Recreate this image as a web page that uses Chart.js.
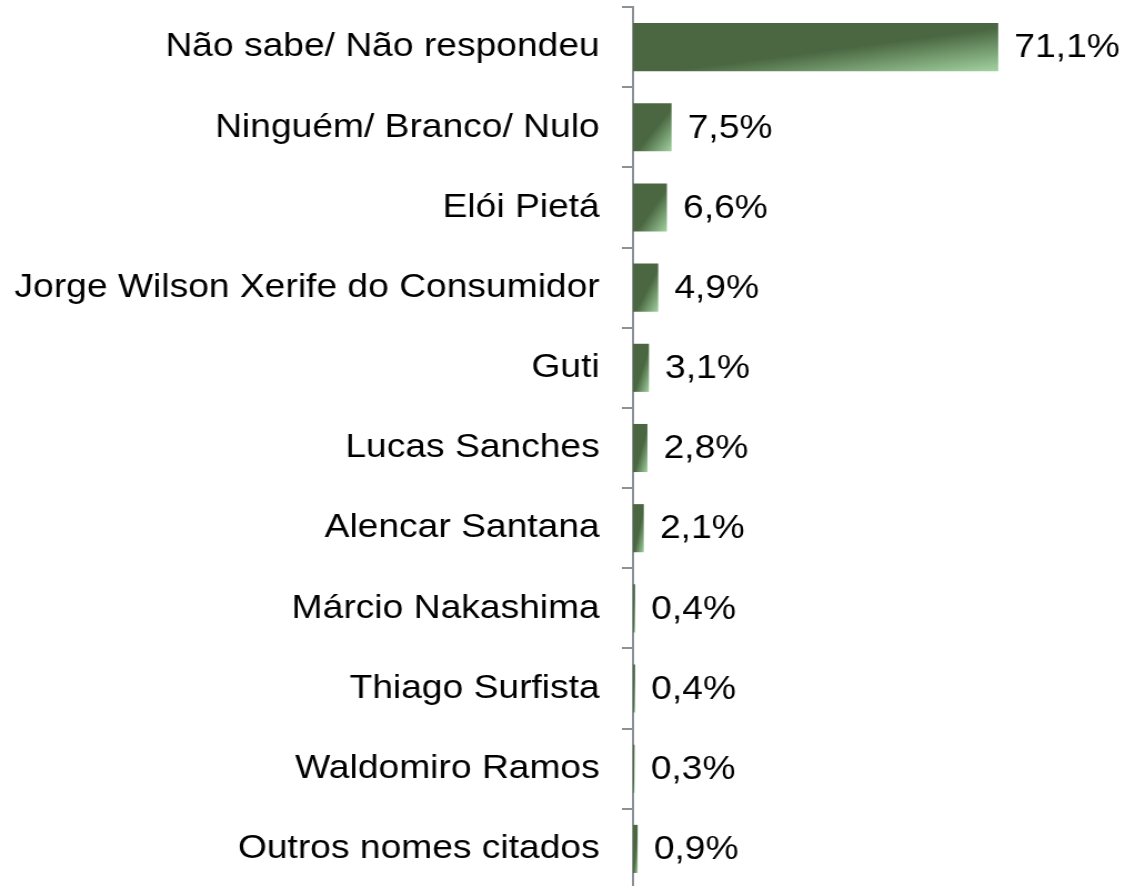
<!DOCTYPE html>
<html lang="pt">
<head>
<meta charset="utf-8">
<title>Intenção de voto</title>
<script src="https://cdn.jsdelivr.net/npm/chart.js@4/dist/chart.umd.min.js"></script>
<style>
    html, body { margin: 0; padding: 0; background: #fff; overflow: hidden; }
    #wrap { width: 1125px; height: 886px; overflow: hidden; }
    /* o gráfico original é levemente esticado na horizontal */
    #chart { transform: scaleX(1.1106); transform-origin: 0 0; }
</style>
</head>
<body>
<div id="wrap"><canvas id="chart" width="1013" height="890"></canvas></div>
<script>
// dados
const categories = [
    'Não sabe/ Não respondeu',
    'Ninguém/ Branco/ Nulo',
    'Elói Pietá',
    'Jorge Wilson Xerife do Consumidor',
    'Guti',
    'Lucas Sanches',
    'Alencar Santana',
    'Márcio Nakashima',
    'Thiago Surfista',
    'Waldomiro Ramos',
    'Outros nomes citados',
];
const values = [71.1, 7.5, 6.6, 4.9, 3.1, 2.8, 2.1, 0.4, 0.4, 0.3, 0.9];

const DARK = '#4a6741';
const LIGHT = '#a2d3a0';
const AXIS = '#8c9197';
const FONT = { family: "'Liberation Sans', Arial, sans-serif", size: 33.5 };
const BAR_PCT = 0.6;

// gradiente diagonal em cada barra (claro no canto inferior direito)
function barGradient(ctx) {
    const chart = ctx.chart;
    if (!chart.chartArea) return DARK;
    const xs = chart.scales.x, ys = chart.scales.y;
    const v = ctx.raw;
    const x0 = xs.getPixelForValue(0);
    const x1 = xs.getPixelForValue(v);
    const step = ys.getPixelForValue(1) - ys.getPixelForValue(0);
    const h = step * BAR_PCT;
    const y0 = ys.getPixelForValue(ctx.dataIndex) - h / 2;
    const w = Math.max(x1 - x0, 0.5);
    const k = (2 * w * h) / (w * w + h * h);
    const g = chart.ctx.createLinearGradient(x0, y0, x0 + k * h, y0 + k * w);
    g.addColorStop(0, DARK);
    g.addColorStop(0.55, DARK);
    g.addColorStop(1, LIGHT);
    return g;
}

const valueLabels = {
    id: 'valueLabels',
    afterDatasetsDraw(chart) {
        const c = chart.ctx;
        const meta = chart.getDatasetMeta(0);
        c.save();
        c.font = `${FONT.size}px ${FONT.family}`;
        c.fillStyle = '#000';
        c.textAlign = 'left';
        c.textBaseline = 'middle';
        meta.data.forEach((bar, i) => {
            const txt = values[i].toFixed(1).replace('.', ',') + '%';
            c.fillText(txt, bar.x + 14.5, bar.y + 1);
        });
        c.restore();
    },
};

new Chart(document.getElementById('chart'), {
    type: 'bar',
    data: {
        labels: categories,
        datasets: [{
            data: values,
            backgroundColor: barGradient,
            borderWidth: 0,
            barPercentage: BAR_PCT,
            categoryPercentage: 1,
        }],
    },
    options: {
        indexAxis: 'y',
        responsive: false,
        animation: false,
        layout: { padding: { top: 7, bottom: 1, left: 0, right: 73 } },
        plugins: {
            legend: { display: false },
            tooltip: { enabled: false },
        },
        scales: {
            x: {
                display: false,
                min: 0,
                max: 80,
            },
            y: {
                afterFit(scale) {
                    scale.width = 570;
                    // rótulos ficam no meio das faixas, sem folga extra
                    scale.paddingTop = 0;
                    scale.paddingBottom = 0;
                },
                grid: {
                    offset: true,
                    drawOnChartArea: false,
                    drawTicks: true,
                    tickLength: 10,
                    color: AXIS,
                    lineWidth: 2,
                },
                border: { display: true, color: AXIS, width: 2 },
                ticks: {
                    color: '#000',
                    font: FONT,
                    padding: 20,
                },
            },
        },
    },
    plugins: [valueLabels],
});
</script>
</body>
</html>
